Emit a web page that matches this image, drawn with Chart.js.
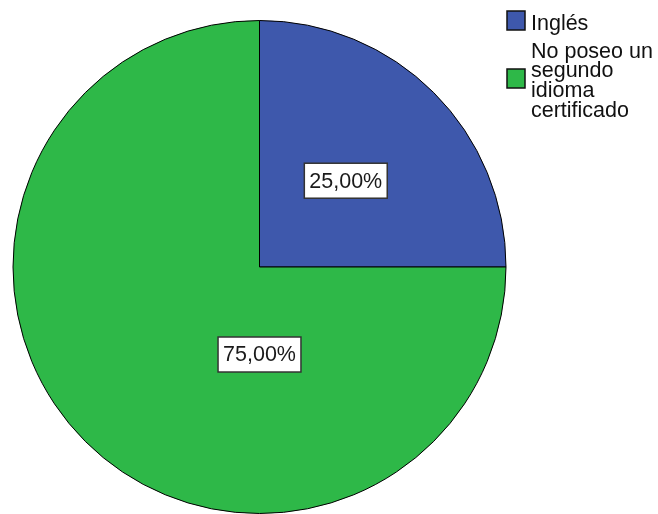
<!DOCTYPE html>
<html>
<head>
<meta charset="utf-8">
<script src="https://cdn.jsdelivr.net/npm/chart.js@4"></script>
<style>
  html, body { margin: 0; padding: 0; background: #fff; }
  canvas { display: block; }
</style>
</head>
<body>
<canvas id="pastel" width="658" height="514"></canvas>
<script>
// DATOS
const categorias = [["Inglés"], ["No poseo un", "segundo", "idioma", "certificado"]];
const porcentajes = [25, 75];
const colores = ["#3E58AC", "#2EB848"];

// POSICION DE LAS ETIQUETAS (fraccion del radio, angulo opcional)
const anclas = [
  { radio: 0.495, angulo: null },
  { radio: 0.355, angulo: Math.PI / 2 }
];

const fuente = "Liberation Sans, Arial, sans-serif";

// ETIQUETAS DE PORCENTAJE
const etiquetas = {
  id: "etiquetas",
  afterDatasetsDraw(chart) {
    const ctx = chart.ctx;
    const arcos = chart.getDatasetMeta(0).data;
    ctx.save();
    ctx.font = "21.5px " + fuente;
    ctx.textAlign = "center";
    ctx.textBaseline = "middle";
    arcos.forEach((arco, i) => {
      const p = arco.getProps(["x", "y", "startAngle", "endAngle", "outerRadius"], true);
      const a = anclas[i].angulo ?? (p.startAngle + p.endAngle) / 2;
      const cx = p.x + Math.cos(a) * p.outerRadius * anclas[i].radio;
      const cy = p.y + Math.sin(a) * p.outerRadius * anclas[i].radio;
      const texto = porcentajes[i].toFixed(2).replace(".", ",") + "%";
      const w = ctx.measureText(texto).width + 10;
      const h = 35;
      ctx.fillStyle = "#fff";
      ctx.fillRect(cx - w / 2, cy - h / 2, w, h);
      ctx.strokeStyle = "#333";
      ctx.lineWidth = 1.5;
      ctx.strokeRect(cx - w / 2, cy - h / 2, w, h);
      ctx.fillStyle = "#1a1a1a";
      ctx.fillText(texto, cx, cy + 1);
    });
    ctx.restore();
  }
};

// LEYENDA A LA DERECHA
const leyenda = {
  id: "leyenda",
  afterDraw(chart) {
    const ctx = chart.ctx;
    const x0 = 507;
    const cajas = [11, 69];
    const primeraLinea = [30, 57.5];
    ctx.save();
    ctx.font = "21.5px " + fuente;
    ctx.textBaseline = "alphabetic";
    categorias.forEach((lineas, i) => {
      ctx.fillStyle = colores[i];
      ctx.fillRect(x0, cajas[i], 18, 19);
      ctx.strokeStyle = "#111";
      ctx.lineWidth = 1.5;
      ctx.strokeRect(x0, cajas[i], 18, 19);
      ctx.fillStyle = "#111";
      lineas.forEach((l, j) => {
        ctx.fillText(l, x0 + 24, primeraLinea[i] + j * 19.8);
      });
    });
    ctx.restore();
  }
};

new Chart(document.getElementById("pastel"), {
  type: "pie",
  data: {
    labels: categorias.map(c => c.join(" ")),
    datasets: [{
      data: porcentajes,
      backgroundColor: colores,
      borderColor: "#000",
      borderWidth: 1
    }]
  },
  options: {
    responsive: false,
    animation: false,
    layout: { padding: { top: 20, left: 12, right: 151, bottom: 0 } },
    plugins: {
      legend: { display: false },
      tooltip: { enabled: false },
      title: { display: false }
    }
  },
  plugins: [etiquetas, leyenda]
});
</script>
</body>
</html>
